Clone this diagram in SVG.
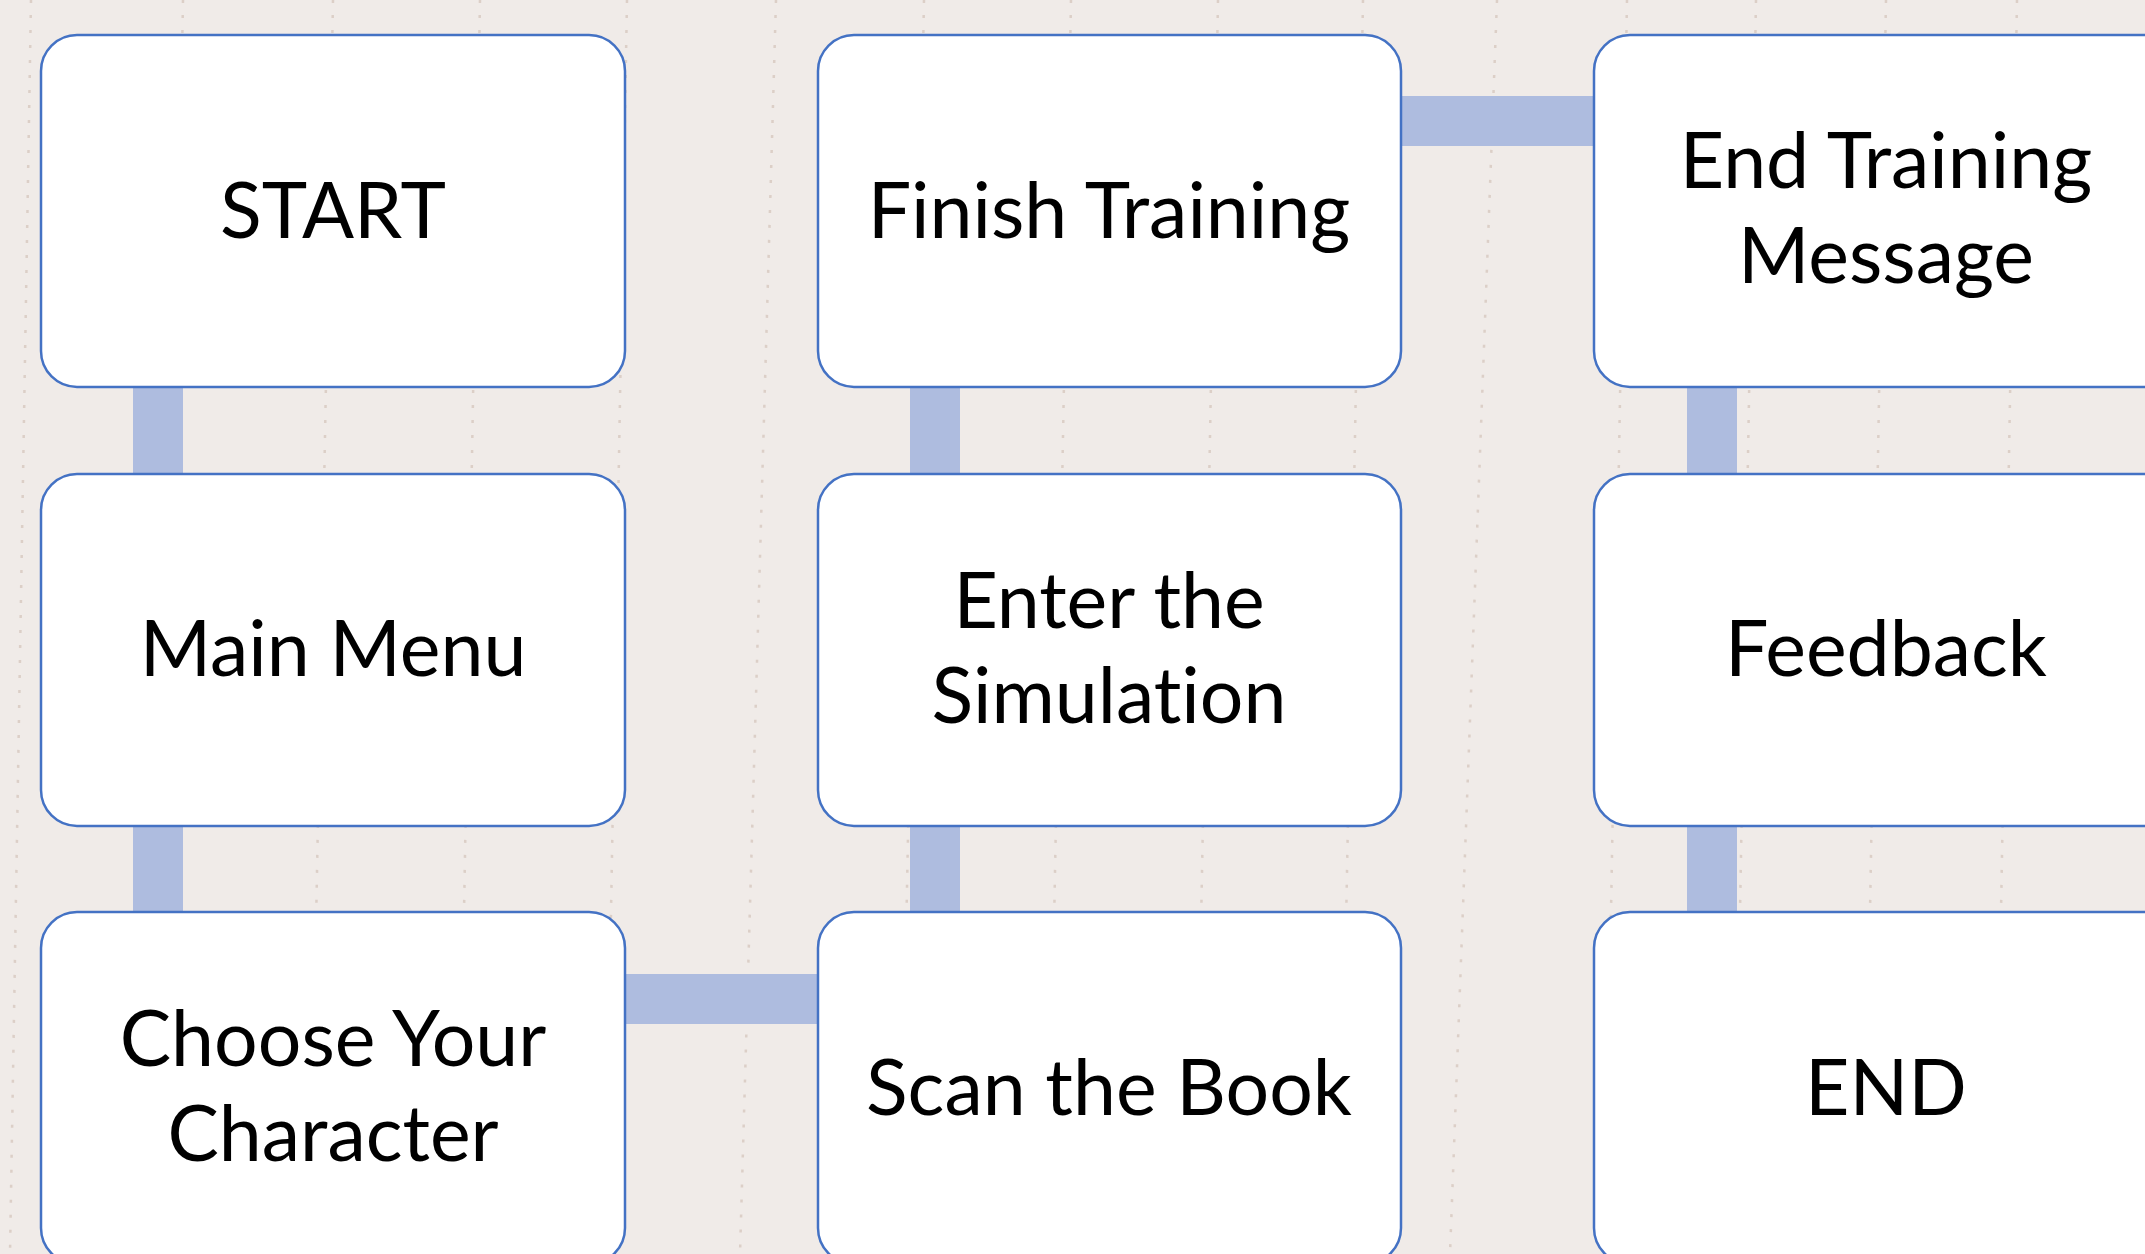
<svg xmlns="http://www.w3.org/2000/svg" width="2145" height="1254" viewBox="0 0 2145 1254">
  <style>
    .paper { fill: #F0EBE8; }
    .rule { stroke: #C4AE9F; stroke-width: 2.5; stroke-dasharray: 3 12; opacity: 0.45; fill: none; }
    .box { fill: #FFFFFF; stroke: #4472C4; stroke-width: 2.5; }
    .link { fill: #AEBCDF; }
    .label { font-family: Lato, "Open Sans", "Liberation Sans", sans-serif; font-size: 77px; fill: #000000; text-anchor: middle; font-variant-ligatures: none; font-feature-settings: "liga" 0, "clig" 0; }
  </style>

  <!-- paper background with faint dotted rulings -->
  <rect class="paper" x="0" y="0" width="2145" height="1254"/>
  <g id="rulings">
    <line class="rule" x1="31" y1="0" x2="10" y2="1254"/>
    <line class="rule" x1="183" y1="0" x2="160" y2="1254"/>
    <line class="rule" x1="333" y1="0" x2="310" y2="1254"/>
    <line class="rule" x1="480" y1="0" x2="458" y2="1254"/>
    <line class="rule" x1="627" y1="0" x2="605" y2="1254"/>
    <line class="rule" x1="776" y1="0" x2="740" y2="1254"/>
    <line class="rule" x1="924" y1="0" x2="900" y2="1254"/>
    <line class="rule" x1="1071" y1="0" x2="1048" y2="1254"/>
    <line class="rule" x1="1218" y1="0" x2="1195" y2="1254"/>
    <line class="rule" x1="1363" y1="0" x2="1340" y2="1254"/>
    <line class="rule" x1="1497" y1="0" x2="1450" y2="1254"/>
    <line class="rule" x1="1627" y1="0" x2="1605" y2="1254"/>
    <line class="rule" x1="1756" y1="0" x2="1734" y2="1254"/>
    <line class="rule" x1="1886" y1="0" x2="1864" y2="1254"/>
    <line class="rule" x1="2017" y1="0" x2="1995" y2="1254"/>
  </g>

  <!-- connectors between steps -->
  <g id="connectors">
    <rect class="link" x="133" y="386" width="50" height="88"/>
    <rect class="link" x="133" y="825" width="50" height="88"/>
    <rect class="link" x="624" y="974" width="195" height="50"/>
    <rect class="link" x="910" y="825" width="50" height="88"/>
    <rect class="link" x="910" y="386" width="50" height="88"/>
    <rect class="link" x="1400" y="96" width="195" height="50"/>
    <rect class="link" x="1687" y="386" width="50" height="88"/>
    <rect class="link" x="1687" y="825" width="50" height="88"/>
  </g>

  <!-- column 1 -->
  <g id="start">
    <rect class="box" x="41" y="35" width="584" height="352" rx="36"/>
    <text class="label" x="333" y="238">START</text>
  </g>
  <g id="main-menu">
    <rect class="box" x="41" y="474" width="584" height="352" rx="36"/>
    <text class="label" x="333" y="676">Main Menu</text>
  </g>
  <g id="choose-character">
    <rect class="box" x="41" y="912" width="584" height="352" rx="36"/>
    <text class="label" x="333" y="1066">Choose Your</text>
    <text class="label" x="333" y="1161">Character</text>
  </g>

  <!-- column 2 -->
  <g id="scan-book">
    <rect class="box" x="818" y="912" width="583" height="352" rx="36"/>
    <text class="label" x="1109" y="1115">Scan the Book</text>
  </g>
  <g id="enter-simulation">
    <rect class="box" x="818" y="474" width="583" height="352" rx="36"/>
    <text class="label" x="1109" y="628">Enter the</text>
    <text class="label" x="1109" y="723">Simulation</text>
  </g>
  <g id="finish-training">
    <rect class="box" x="818" y="35" width="583" height="352" rx="36"/>
    <text class="label" x="1109" y="238">Finish Training</text>
  </g>

  <!-- column 3 -->
  <g id="end-training-message">
    <rect class="box" x="1594" y="35" width="584" height="352" rx="36"/>
    <text class="label" x="1886" y="188">End Training</text>
    <text class="label" x="1886" y="283">Message</text>
  </g>
  <g id="feedback">
    <rect class="box" x="1594" y="474" width="584" height="352" rx="36"/>
    <text class="label" x="1886" y="676">Feedback</text>
  </g>
  <g id="end">
    <rect class="box" x="1594" y="912" width="584" height="352" rx="36"/>
    <text class="label" x="1886" y="1115">END</text>
  </g>
</svg>
